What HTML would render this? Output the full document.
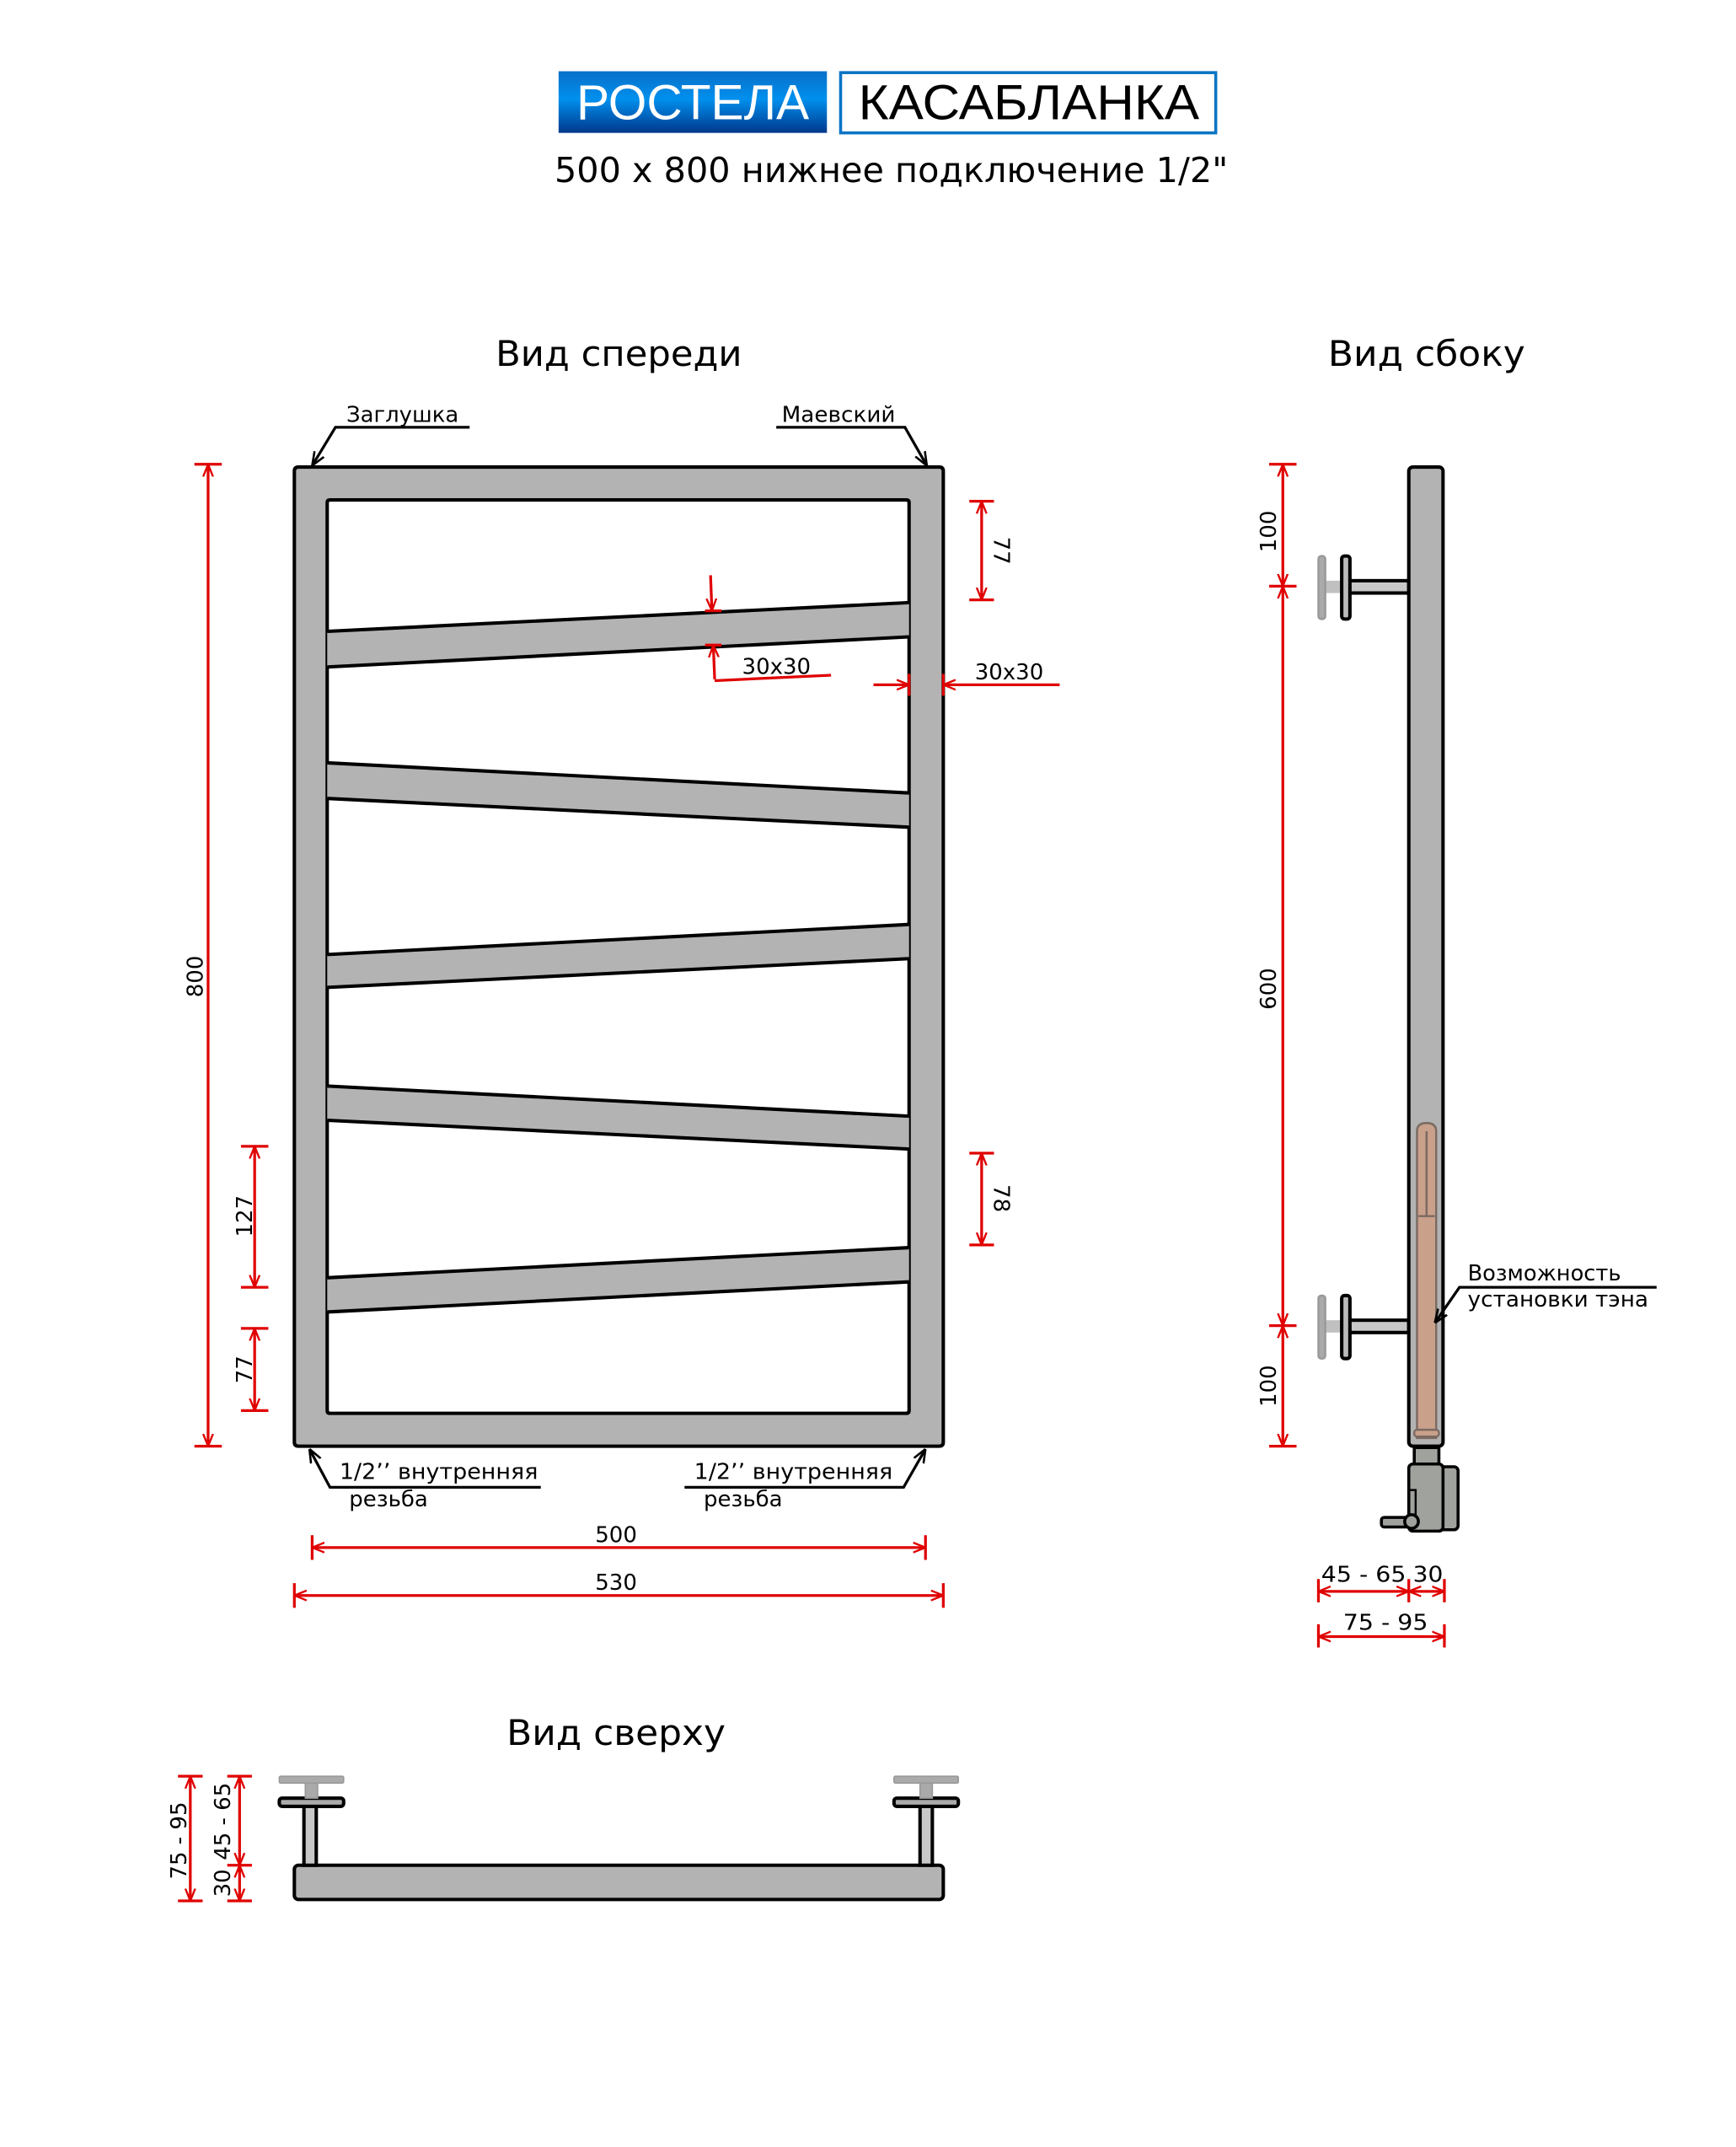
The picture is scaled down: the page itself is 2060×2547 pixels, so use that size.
<!DOCTYPE html>
<html><head><meta charset="utf-8"><style>
html,body{margin:0;padding:0;background:#fff}
svg{display:block}
text{font-family:"DejaVu Sans","Liberation Sans",sans-serif}
</style></head><body>
<svg width="2060" height="2547" viewBox="0 0 1268 1567.7" xmlns="http://www.w3.org/2000/svg">
<defs>
<linearGradient id="bl" x1="0" y1="0" x2="0" y2="1"><stop offset="0" stop-color="#0a6fc8"/><stop offset="0.45" stop-color="#0090ee"/><stop offset="1" stop-color="#00388c"/></linearGradient>
<marker id="ar" viewBox="0 0 10 10" refX="10" refY="5" markerWidth="9" markerHeight="9" orient="auto-start-reverse" markerUnits="userSpaceOnUse"><path d="M0,1 L10,5 L0,9" fill="none" stroke="#e00000" stroke-width="1.6"/></marker>
<marker id="ak" viewBox="0 0 10 10" refX="10" refY="5" markerWidth="10" markerHeight="10" orient="auto" markerUnits="userSpaceOnUse"><path d="M0,1 L10,5 L0,9" fill="none" stroke="#000" stroke-width="1.6"/></marker>
</defs>
<!-- header -->
<rect x="408" y="52" width="196" height="45" fill="url(#bl)"/>
<text x="421" y="87" fill="#fff" font-size="36" textLength="170" lengthAdjust="spacingAndGlyphs" style="font-family:'Liberation Sans',sans-serif">РОСТЕЛА</text>
<rect x="614" y="53" width="274" height="44" fill="#fff" stroke="#0a74c4" stroke-width="2.2"/>
<text x="627" y="87" fill="#000" font-size="36" textLength="249" lengthAdjust="spacingAndGlyphs" style="font-family:'Liberation Sans',sans-serif">КАСАБЛАНКА</text>
<text x="405" y="133" font-size="25" textLength="492" lengthAdjust="spacingAndGlyphs">500 x 800 нижнее подключение 1/2"</text>
<text x="362" y="267" font-size="26" textLength="180" lengthAdjust="spacingAndGlyphs">Вид спереди</text>
<text x="970" y="267" font-size="26" textLength="144" lengthAdjust="spacingAndGlyphs">Вид сбоку</text>
<text x="370" y="1274" font-size="26" textLength="160" lengthAdjust="spacingAndGlyphs">Вид сверху</text>

<!-- front frame -->
<path fill-rule="evenodd" fill="#b3b3b3" stroke="#000" stroke-width="2.5" d="M218,341 H686 Q689,341 689,344 V1053 Q689,1056 686,1056 H218 Q215,1056 215,1053 V344 Q215,341 218,341 Z M241,365 H662 Q664,365 664,367 V1030 Q664,1032 662,1032 H241 Q239,1032 239,1030 V367 Q239,365 241,365 Z"/>
<g fill="#b3b3b3" stroke="#000" stroke-width="2.5">
<polygon points="239,461 664,440 664,465 239,487" stroke="none"/>
<path d="M239,461 L664,440 M664,465 L239,487"/>
<polygon points="239,557 664,579 664,604 239,583" stroke="none"/>
<path d="M239,557 L664,579 M664,604 L239,583"/>
<polygon points="239,697 664,675 664,700 239,721" stroke="none"/>
<path d="M239,697 L664,675 M664,700 L239,721"/>
<polygon points="239,793 664,815 664,839 239,818" stroke="none"/>
<path d="M239,793 L664,815 M664,839 L239,818"/>
<polygon points="239,933 664,911 664,936 239,958" stroke="none"/>
<path d="M239,933 L664,911 M664,936 L239,958"/>
</g>

<!-- red dims front -->
<g stroke="#e00000" stroke-width="2" fill="none">
<line x1="152" y1="339" x2="152" y2="1056" marker-start="url(#ar)" marker-end="url(#ar)"/>
<line x1="142" y1="339" x2="162" y2="339"/><line x1="142" y1="1056" x2="162" y2="1056"/>
<line x1="717" y1="366" x2="717" y2="438" marker-start="url(#ar)" marker-end="url(#ar)"/>
<line x1="708" y1="366" x2="726" y2="366"/><line x1="708" y1="438" x2="726" y2="438"/>
<line x1="717" y1="842" x2="717" y2="909" marker-start="url(#ar)" marker-end="url(#ar)"/>
<line x1="708" y1="842" x2="726" y2="842"/><line x1="708" y1="909" x2="726" y2="909"/>
<line x1="186" y1="837" x2="186" y2="940" marker-start="url(#ar)" marker-end="url(#ar)"/>
<line x1="176" y1="837" x2="196" y2="837"/><line x1="176" y1="940" x2="196" y2="940"/>
<line x1="186" y1="970" x2="186" y2="1030" marker-start="url(#ar)" marker-end="url(#ar)"/>
<line x1="176" y1="970" x2="196" y2="970"/><line x1="176" y1="1030" x2="196" y2="1030"/>
<line x1="519" y1="420" x2="520" y2="446" marker-end="url(#ar)"/>
<line x1="515" y1="446" x2="527" y2="446"/><line x1="515" y1="471" x2="527" y2="471"/>
<line x1="522" y1="496" x2="521" y2="471" marker-end="url(#ar)"/>
<line x1="522" y1="497" x2="607" y2="493"/>
<line x1="638" y1="500" x2="664" y2="500" marker-end="url(#ar)"/>
<line x1="774" y1="500" x2="689" y2="500" marker-end="url(#ar)"/>
<line x1="664" y1="492" x2="664" y2="508"/><line x1="689" y1="492" x2="689" y2="508"/>
<line x1="228" y1="1130" x2="676" y2="1130" marker-start="url(#ar)" marker-end="url(#ar)"/>
<line x1="228" y1="1121" x2="228" y2="1139"/><line x1="676" y1="1121" x2="676" y2="1139"/>
<line x1="215" y1="1165" x2="689" y2="1165" marker-start="url(#ar)" marker-end="url(#ar)"/>
<line x1="215" y1="1156" x2="215" y2="1174"/><line x1="689" y1="1156" x2="689" y2="1174"/>
</g>
<g font-size="16">
<text transform="translate(148,713) rotate(-90)" text-anchor="middle">800</text>
<text transform="translate(726,402) rotate(90)" text-anchor="middle">77</text>
<text transform="translate(726,875) rotate(90)" text-anchor="middle">78</text>
<text transform="translate(184,888) rotate(-90)" text-anchor="middle">127</text>
<text transform="translate(184,1000) rotate(-90)" text-anchor="middle">77</text>
<text x="542" y="492">30x30</text>
<text x="712" y="496">30x30</text>
<text x="450" y="1126" text-anchor="middle">500</text>
<text x="450" y="1161" text-anchor="middle">530</text>
<text x="253" y="308" textLength="82" lengthAdjust="spacingAndGlyphs">Заглушка</text>
<text x="571" y="308" textLength="83" lengthAdjust="spacingAndGlyphs">Маевский</text>
<text x="248" y="1080" textLength="145" lengthAdjust="spacingAndGlyphs">1/2’’ внутренняя</text>
<text x="255" y="1100">резьба</text>
<text x="507" y="1080" textLength="145" lengthAdjust="spacingAndGlyphs">1/2’’ внутренняя</text>
<text x="514" y="1100">резьба</text>
</g>
<g stroke="#000" stroke-width="2" fill="none">
<polyline points="343,312 245,312 228,340" marker-end="url(#ak)"/>
<polyline points="567,312 661,312 677,340" marker-end="url(#ak)"/>
<polyline points="395,1086 241,1086 226,1058" marker-end="url(#ak)"/>
<polyline points="500,1086 660,1086 676,1058" marker-end="url(#ak)"/>
</g>

<!-- side view -->
<g stroke="#000" stroke-width="2.5">
<rect x="985" y="424" width="44" height="9" fill="#c8c8c8"/>
<rect x="968" y="424" width="12" height="9" fill="#c0c0c0" stroke="none"/>
<rect x="963" y="406" width="5" height="46" rx="2" fill="#aaa" stroke="#999" stroke-width="1.5"/>
<rect x="980" y="406" width="6" height="46" rx="2" fill="#bbb"/>
<rect x="985" y="964" width="44" height="9" fill="#c8c8c8"/>
<rect x="968" y="964" width="12" height="9" fill="#c0c0c0" stroke="none"/>
<rect x="963" y="946" width="5" height="46" rx="2" fill="#aaa" stroke="#999" stroke-width="1.5"/>
<rect x="980" y="946" width="6" height="46" rx="2" fill="#bbb"/>
<rect x="1029" y="341" width="25" height="715" rx="3" fill="#b3b3b3"/>
</g>
<g stroke="#7a6a62" stroke-width="1.5" fill="#c9a08a">
<path d="M1035,1050 V826 Q1035,820 1042,820 Q1049,820 1049,826 V1050 Z"/>
<line x1="1036" y1="888" x2="1048" y2="888"/>
<line x1="1042" y1="826" x2="1042" y2="888"/>
<rect x="1033" y="1044" width="18" height="5" rx="2"/>
</g>
<g stroke="#000" stroke-width="2.2" fill="#a0a39d">
<rect x="1033" y="1057" width="18" height="14"/>
<rect x="1050" y="1071" width="15" height="46" rx="3"/>
<rect x="1029" y="1069" width="25" height="49" rx="3"/>
<rect x="1029" y="1088" width="5" height="18" fill="none" stroke-width="1.5"/>
<rect x="1009" y="1108" width="22" height="7" rx="2"/>
<circle cx="1031" cy="1111" r="5"/>
</g>
<g stroke="#e00000" stroke-width="2" fill="none">
<line x1="937" y1="339" x2="937" y2="428" marker-start="url(#ar)" marker-end="url(#ar)"/>
<line x1="937" y1="428" x2="937" y2="968" marker-start="url(#ar)" marker-end="url(#ar)"/>
<line x1="937" y1="968" x2="937" y2="1056" marker-start="url(#ar)" marker-end="url(#ar)"/>
<line x1="927" y1="339" x2="947" y2="339"/><line x1="927" y1="428" x2="947" y2="428"/>
<line x1="927" y1="968" x2="947" y2="968"/><line x1="927" y1="1056" x2="947" y2="1056"/>
<line x1="963" y1="1162" x2="1029" y2="1162" marker-start="url(#ar)" marker-end="url(#ar)"/>
<line x1="1029" y1="1162" x2="1055" y2="1162" marker-start="url(#ar)" marker-end="url(#ar)"/>
<line x1="963" y1="1153" x2="963" y2="1170"/><line x1="1029" y1="1153" x2="1029" y2="1170"/><line x1="1055" y1="1153" x2="1055" y2="1170"/>
<line x1="963" y1="1195" x2="1055" y2="1195" marker-start="url(#ar)" marker-end="url(#ar)"/>
<line x1="963" y1="1186" x2="963" y2="1203"/><line x1="1055" y1="1186" x2="1055" y2="1203"/>
</g>
<g font-size="16">
<text transform="translate(932,388) rotate(-90)" text-anchor="middle">100</text>
<text transform="translate(932,722) rotate(-90)" text-anchor="middle">600</text>
<text transform="translate(932,1012) rotate(-90)" text-anchor="middle">100</text>
<text x="965" y="1155" textLength="62" lengthAdjust="spacingAndGlyphs">45 - 65</text>
<text x="1032" y="1155" textLength="22" lengthAdjust="spacingAndGlyphs">30</text>
<text x="981" y="1190" textLength="62" lengthAdjust="spacingAndGlyphs">75 - 95</text>
<text x="1072" y="935" textLength="112" lengthAdjust="spacingAndGlyphs">Возможность</text>
<text x="1072" y="954" textLength="132" lengthAdjust="spacingAndGlyphs">установки тэна</text>
</g>
<polyline points="1210,940 1066,940 1048,966" stroke="#000" stroke-width="2" fill="none" marker-end="url(#ak)"/>

<!-- top view -->
<g stroke="#000" stroke-width="2.5">
<rect x="215" y="1362" width="474" height="25" rx="3" fill="#b3b3b3"/>
<rect x="222" y="1318" width="9" height="44" fill="#c8c8c8"/>
<rect x="204" y="1313" width="47" height="6" rx="2" fill="#aaa"/>
<rect x="672" y="1318" width="9" height="44" fill="#c8c8c8"/>
<rect x="653" y="1313" width="47" height="6" rx="2" fill="#aaa"/>
</g>
<g fill="#aaa" stroke="#999" stroke-width="1">
<rect x="223" y="1302" width="9" height="11"/>
<rect x="204" y="1297" width="47" height="5" rx="1"/>
<rect x="672" y="1302" width="9" height="11"/>
<rect x="653" y="1297" width="47" height="5" rx="1"/>
</g>
<g stroke="#e00000" stroke-width="2" fill="none">
<line x1="139" y1="1297" x2="139" y2="1388" marker-start="url(#ar)" marker-end="url(#ar)"/>
<line x1="130" y1="1297" x2="148" y2="1297"/><line x1="130" y1="1388" x2="148" y2="1388"/>
<line x1="175" y1="1297" x2="175" y2="1362" marker-start="url(#ar)" marker-end="url(#ar)"/>
<line x1="175" y1="1362" x2="175" y2="1388" marker-start="url(#ar)" marker-end="url(#ar)"/>
<line x1="166" y1="1297" x2="184" y2="1297"/><line x1="166" y1="1362" x2="184" y2="1362"/><line x1="166" y1="1388" x2="184" y2="1388"/>
</g>
<g font-size="16">
<text transform="translate(136,1344) rotate(-90)" text-anchor="middle">75 - 95</text>
<text transform="translate(168,1330) rotate(-90)" text-anchor="middle">45 - 65</text>
<text transform="translate(168,1375) rotate(-90)" text-anchor="middle">30</text>
</g>
</svg>
</body></html>
